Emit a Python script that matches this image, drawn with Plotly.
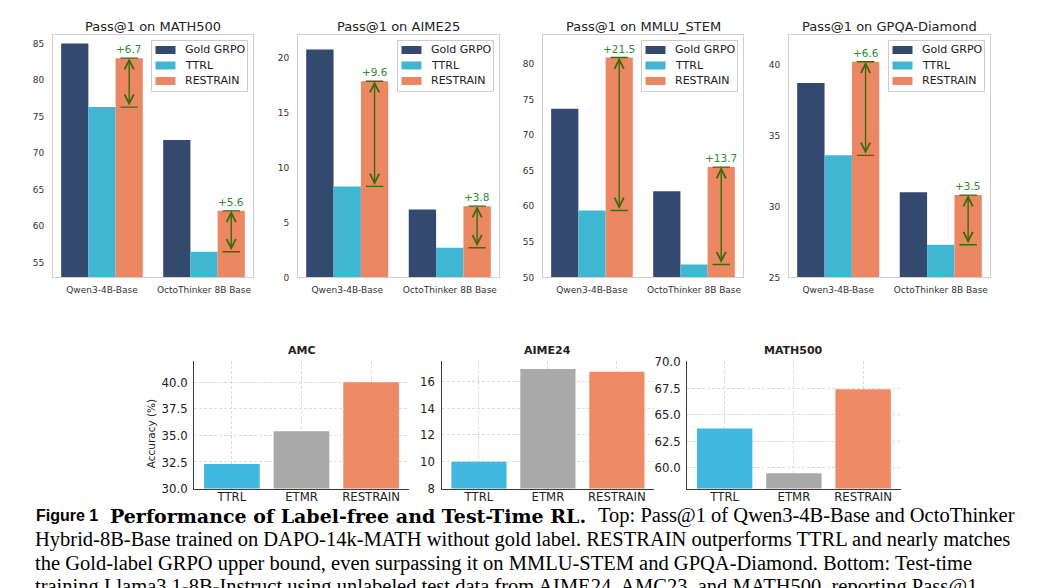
import plotly.graph_objects as go

# ---- data ----
models = ['Qwen3-4B-Base', 'OctoThinker 8B Base']
top_titles = ['Pass@1 on MATH500', 'Pass@1 on AIME25', 'Pass@1 on MMLU_STEM', 'Pass@1 on GPQA-Diamond']
series_names = ['Gold GRPO', 'TTRL', 'RESTRAIN']

math500_gold = [85.0, 71.8]
math500_ttrl = [76.3, 56.5]
math500_restrain = [83.0, 62.1]

aime25_gold = [20.8, 6.2]
aime25_ttrl = [8.3, 2.7]
aime25_restrain = [17.9, 6.5]

mmlu_gold = [73.7, 62.1]
mmlu_ttrl = [59.4, 51.8]
mmlu_restrain = [80.9, 65.5]

gpqa_gold = [38.7, 31.0]
gpqa_ttrl = [33.6, 27.3]
gpqa_restrain = [40.2, 30.8]

methods = ['TTRL', 'ETMR', 'RESTRAIN']
bottom_titles = ['AMC', 'AIME24', 'MATH500']
amc_acc = [32.3, 35.4, 40.0]
aime24_acc = [10.0, 16.9, 16.7]
math500_acc = [63.7, 59.5, 67.4]

top_data = [
    (math500_gold, math500_ttrl, math500_restrain),
    (aime25_gold, aime25_ttrl, aime25_restrain),
    (mmlu_gold, mmlu_ttrl, mmlu_restrain),
    (gpqa_gold, gpqa_ttrl, gpqa_restrain),
]
bottom_data = [amc_acc, aime24_acc, math500_acc]

# ---- styling / layout ----
W, H = 1052, 588
NAVY, CYAN, ORANGE = '#34496e', '#40b6d2', '#eb8863'
B_COLORS = ['#41b8e0', '#a9a9a9', '#ef8a66']
ARROW = '#3b6a0c'
GAIN = '#2e8c2e'


# positions below are measured in screenshot pixels; the page puts the
# figure a little lower/right than 0,0 so convert to paper fractions here
def px(x):
    return (x - 8) / W


def py(y):
    return 1 - (y - 14.5) / 0.975 / H


top_boxes = [(53, 253), (298, 499), (543, 743), (789, 990)]
top_ranges = [[53.0, 86.1], [0, 22.07], [50, 84.0], [25, 42.05]]
top_ticks = [[55, 60, 65, 70, 75, 80, 85], [0, 5, 10, 15, 20],
             [50, 55, 60, 65, 70, 75, 80], [25, 30, 35, 40]]
top_y = (35, 277)

bot_boxes = [(194.3, 408.7), (441.7, 654.1), (687.3, 900.5)]
bot_ranges = [[30, 42.0], [8, 17.5], [58.05, 70.05]]
bot_ticks = [[30, 32.5, 35, 37.5, 40], [8, 10, 12, 14, 16], [60, 62.5, 65, 67.5, 70]]
bot_fmt = ['.1f', 'd', '.1f']
bot_y = (360.7, 488.3)

fig = go.Figure()
layout = {}
annotations = []
shapes = []
txt = dict(xref='paper', yref='paper', xanchor='center', yanchor='middle', showarrow=False)

# top row: grouped bars with gain arrows
for i, (gold, ttrl, restrain) in enumerate(top_data):
    n = i + 1
    xa = 'x' if n == 1 else 'x%d' % n
    ya = 'y' if n == 1 else 'y%d' % n
    for name, vals, col in zip(series_names, (gold, ttrl, restrain), (NAVY, CYAN, ORANGE)):
        fig.add_trace(go.Bar(x=[0, 1], y=vals, name=name, marker_color=col,
                             marker_line_width=0, xaxis=xa, yaxis=ya, showlegend=False))
    x0, x1 = top_boxes[i]
    layout['xaxis' if n == 1 else 'xaxis%d' % n] = dict(
        domain=[px(x0), px(x1)], anchor=ya, range=[-0.48, 1.48],
        tickvals=[0, 1], ticktext=models, showgrid=False, zeroline=False,
        showline=True, mirror=True, linecolor='#cfcfcf', linewidth=1,
        ticks='', ticklabelstandoff=4,
        tickfont=dict(family='DejaVu Sans', size=9, color='#333333'))
    layout['yaxis' if n == 1 else 'yaxis%d' % n] = dict(
        domain=[py(top_y[1]), py(top_y[0])], anchor=xa, range=top_ranges[i],
        tickvals=top_ticks[i], showgrid=False, zeroline=False,
        showline=True, mirror=True, linecolor='#cfcfcf', linewidth=1,
        ticks='', ticklabelstandoff=6,
        tickfont=dict(family='DejaVu Sans', size=9, color='#333333'))
    annotations.append(dict(txt, x=px((x0 + x1) / 2), y=py(26), text=top_titles[i],
                            font=dict(family='DejaVu Sans', size=13, color='#222222')))

    # legend box drawn in the upper right corner of each panel
    lx1 = x1 - 5.5
    lx0 = lx1 - 96
    shapes.append(dict(type='rect', xref='paper', yref='paper', x0=px(lx0), x1=px(lx1),
                       y0=py(91), y1=py(40), fillcolor='white',
                       line=dict(color='#cccccc', width=1), layer='above'))
    for s, (name, col) in enumerate(zip(series_names, (NAVY, CYAN, ORANGE))):
        yc = 49.5 + 15.5 * s
        shapes.append(dict(type='rect', xref='paper', yref='paper', x0=px(lx0 + 4),
                           x1=px(lx0 + 24), y0=py(yc + 4), y1=py(yc - 4),
                           fillcolor=col, line=dict(width=0), layer='above'))
        annotations.append(dict(txt, xanchor='left', x=px(lx0 + 31), y=py(yc), text=name,
                                font=dict(family='DejaVu Sans', size=11, color='#222222')))

    # arrows from TTRL up to RESTRAIN
    for k in range(2):
        xc = k + 0.8 / 3
        annotations.append(dict(x=xc, y=restrain[k], ax=xc, ay=ttrl[k], xref=xa, yref=ya,
                                axref=xa, ayref=ya, text='', showarrow=True,
                                arrowside='end+start', arrowhead=5, startarrowhead=5,
                                arrowsize=1.3, startarrowsize=1.3, arrowwidth=1.4,
                                arrowcolor=ARROW, standoff=0, startstandoff=0))
        annotations.append(dict(x=xc, y=restrain[k], xref=xa, yref=ya, xanchor='center',
                                yanchor='bottom', yshift=1,
                                text='+%.1f' % (restrain[k] - ttrl[k]), showarrow=False,
                                font=dict(family='DejaVu Sans', size=10.5, color=GAIN)))
        for yv in (ttrl[k], restrain[k]):
            shapes.append(dict(type='line', xref=xa, yref=ya, x0=xc - 0.085, x1=xc + 0.085,
                               y0=yv, y1=yv, line=dict(color=ARROW, width=1.4)))

# bottom row: Llama3.1-8B-Instruct test-time training
for j, vals in enumerate(bottom_data):
    n = j + 5
    xa, ya = 'x%d' % n, 'y%d' % n
    fig.add_trace(go.Bar(x=[0, 1, 2], y=vals, marker_color=B_COLORS, marker_line_width=0,
                         xaxis=xa, yaxis=ya, showlegend=False))
    x0, x1 = bot_boxes[j]
    layout['xaxis%d' % n] = dict(
        domain=[px(x0), px(x1)], anchor=ya, range=[-0.54, 2.54],
        tickvals=[0, 1, 2], ticktext=methods, showgrid=True, gridcolor='#dcdcdc',
        griddash='3px,2px', gridwidth=0.8, zeroline=False, showline=True,
        linecolor='#3a3a3a', linewidth=1.2, ticks='', ticklabelstandoff=-4,
        tickfont=dict(family='DejaVu Sans Condensed, DejaVu Sans', size=13, color='#222222'))
    layout['yaxis%d' % n] = dict(
        domain=[py(bot_y[1]), py(bot_y[0])], anchor=xa, range=bot_ranges[j],
        tickvals=bot_ticks[j], tickformat=bot_fmt[j], showgrid=True,
        gridcolor='#dcdcdc', griddash='3px,2px', gridwidth=0.8, zeroline=False,
        showline=True, linecolor='#3a3a3a', linewidth=1.2, ticks='', ticklabelstandoff=3,
        tickfont=dict(family='DejaVu Sans Condensed, DejaVu Sans', size=13, color='#222222'))
    annotations.append(dict(txt, x=px((x0 + x1) / 2), y=py(350),
                            text='<b>%s</b>' % bottom_titles[j],
                            font=dict(family='DejaVu Sans', size=11, color='#222222')))

annotations.append(dict(txt, x=px(151), y=py(434), text='Accuracy (%)', textangle=-90,
                        font=dict(family='DejaVu Sans', size=10.5, color='#222222')))

# caption
serif = 'Liberation Serif, Times New Roman, serif'
annotations.append(dict(txt, xanchor='left', x=px(33.5), y=py(515.5), text='<b>Figure 1</b>',
                        font=dict(family='Liberation Sans, Arial', size=16, color='black')))
annotations.append(dict(txt, xanchor='left', x=px(108), y=py(515.5),
                        text='<b>Performance of Label-free and Test-Time RL.</b>',
                        font=dict(family='DejaVu Serif', size=19, color='black')))
annotations.append(dict(txt, xanchor='left', x=px(596), y=py(515.5),
                        text='Top: Pass@1 of Qwen3-4B-Base and OctoThinker',
                        font=dict(family=serif, size=20.5, color='black')))
caption_lines = [
    'Hybrid-8B-Base trained on DAPO-14k-MATH without gold label. RESTRAIN outperforms TTRL and nearly matches',
    'the Gold-label GRPO upper bound, even surpassing it on MMLU-STEM and GPQA-Diamond. Bottom: Test-time',
    'training Llama3.1-8B-Instruct using unlabeled test data from AIME24, AMC23, and MATH500, reporting Pass@1',
]
for k, line in enumerate(caption_lines):
    annotations.append(dict(txt, xanchor='left', x=px(33), y=py(539.5 + 23.3 * k), text=line,
                            font=dict(family=serif, size=20.5, color='black')))

fig.update_layout(**layout)
fig.update_layout(width=W, height=H, margin=dict(l=0, r=0, t=0, b=0),
                  paper_bgcolor='white', plot_bgcolor='white', showlegend=False,
                  barmode='group', bargap=0.2, bargroupgap=0,
                  annotations=annotations, shapes=shapes)

fig.write_html('out.html')
